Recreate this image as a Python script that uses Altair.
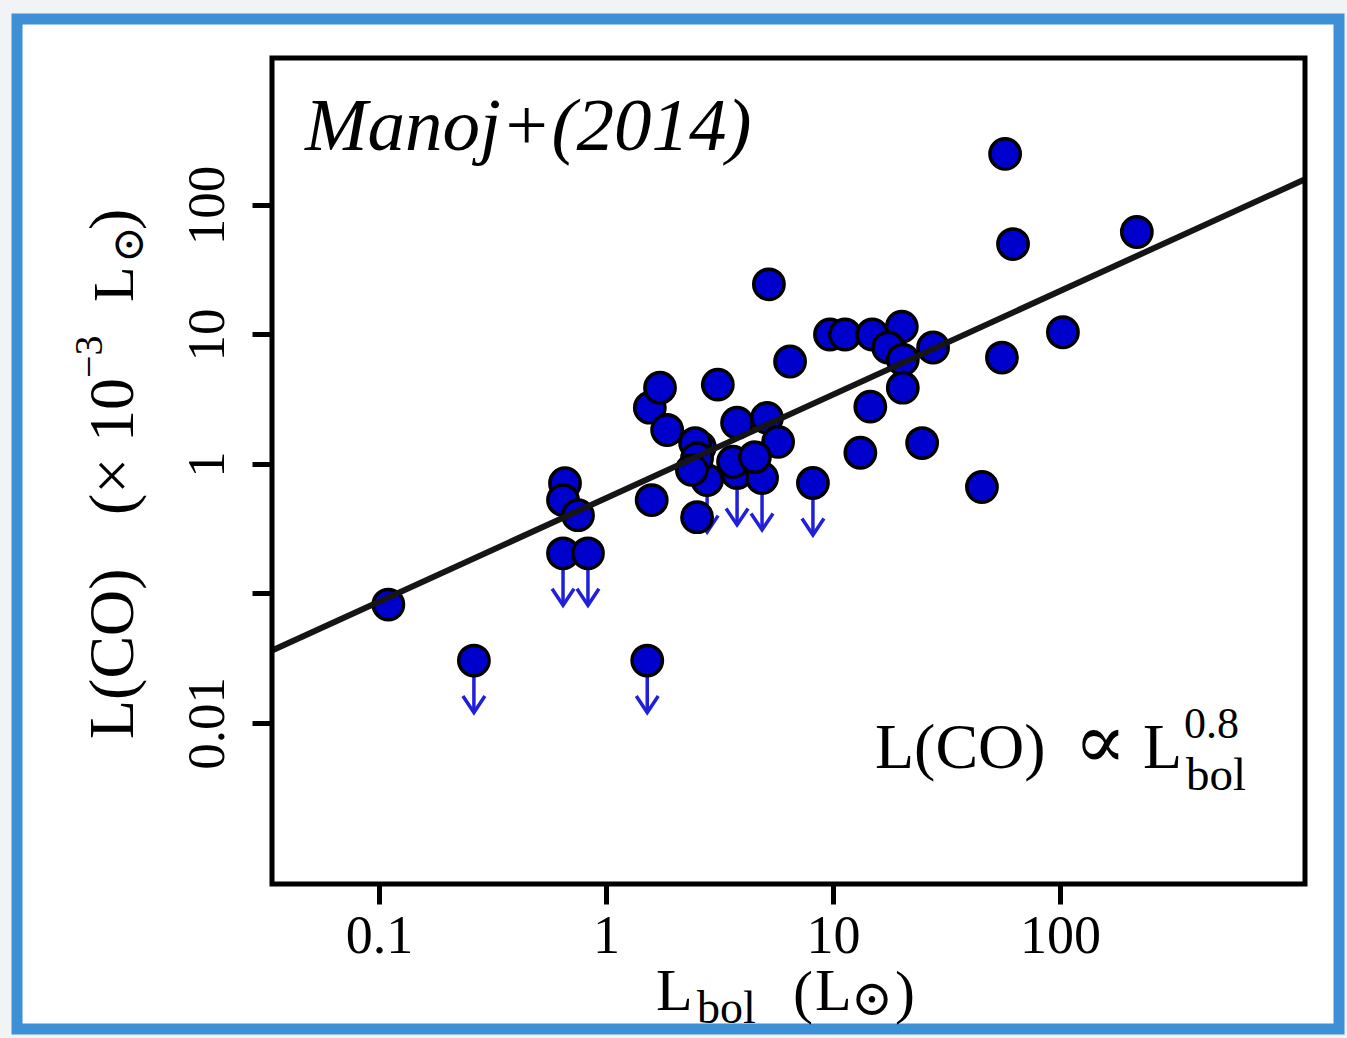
import altair as alt
import pandas as pd

# Protostars with CO detections: L_bol (L_sun) and L(CO) (1e-3 L_sun)
L_BOL = [0.110, 0.66, 0.647, 0.753, 1.59, 1.56, 1.73, 1.86, 3.11, 2.52,
         2.59, 2.47, 2.52, 2.39, 3.78, 5.12, 5.73, 3.63, 4.53, 6.47,
         5.22, 9.70, 11.3, 14.9, 20.1, 17.5, 27.6, 20.3, 20.3, 14.6,
         24.7, 13.2, 45.3, 55.5, 103, 57.3, 62.1, 218]
L_CO = [0.082, 0.71, 0.526, 0.402, 0.526, 2.72, 3.88, 1.83, 4.10, 0.388,
        1.35, 1.45, 1.11, 0.90, 2.08, 2.27, 1.48, 1.04, 1.13, 6.18,
        24.4, 10.0, 10.0, 10.0, 11.5, 7.93, 7.93, 6.40, 3.88, 2.77,
        1.45, 1.22, 0.664, 6.63, 10.4, 248, 49.9, 61.8]

# Sources with upper limits on L(CO)
L_BOL_UL = [0.262, 1.52, 0.647, 0.833, 2.79, 3.78, 4.87, 8.16]
L_CO_UL = [0.0303, 0.0303, 0.204, 0.204, 0.75, 0.852, 0.78, 0.712]

X_TICKS = [0.1, 1, 10, 100]
X_TICK_LABELS = ["0.1", "1", "10", "100"]
Y_TICKS = [0.01, 0.1, 1, 10, 100]
Y_TICK_LABELS = ["0.01", "", "1", "10", "100"]

X_DOMAIN = [0.0338, 1200]
Y_DOMAIN = [0.00057, 1365]

# Power-law fit L(CO) = A * L_bol^0.8
FIT_EXPONENT = 0.8
FIT_COEFF = 0.544

# ---- layout -------------------------------------------------------------
W, H = 1033, 826
PAD_L, PAD_T = 272, 58
PAD_R, PAD_B = 1347 - PAD_L - W, 1038 - PAD_T - H

SERIF = "Liberation Serif, DejaVu Serif, serif"
DOT_FILL = "#0000cc"
ARROW = "#2020d8"
FRAME_BLUE = "#3d8fd6"
DOT_SIZE = 920

det = pd.DataFrame({"L": L_BOL, "C": L_CO})
ul = pd.DataFrame({"L": L_BOL_UL, "C": L_CO_UL})
fit = pd.DataFrame({"L": X_DOMAIN,
                    "C": [FIT_COEFF * v ** FIT_EXPONENT for v in X_DOMAIN]})
one = pd.DataFrame({"k": [0]})


def label_expr(values, labels):
    vals = "[" + ",".join(repr(v) for v in values) + "]"
    labs = "[" + ",".join("'" + s + "'" for s in labels) + "]"
    return f"{labs}[indexof({vals}, datum.value)]"


x_scale = alt.Scale(type="log", domain=X_DOMAIN, nice=False)
y_scale = alt.Scale(type="log", domain=Y_DOMAIN, nice=False)

x_axis = alt.Axis(values=X_TICKS, labelExpr=label_expr(X_TICKS, X_TICK_LABELS),
                  domain=False, grid=False, tickSize=20, tickWidth=5,
                  tickColor="black", labelFont=SERIF, labelFontSize=54,
                  labelColor="black", labelPadding=48, labelBaseline="alphabetic",
                  labelAlign="center", labelFlush=False, labelOverlap=False,
                  title=None, zindex=1)
y_axis = alt.Axis(values=Y_TICKS, labelExpr=label_expr(Y_TICKS, Y_TICK_LABELS),
                  domain=False, grid=False, tickSize=20, tickWidth=5,
                  tickColor="black", labelFont=SERIF, labelFontSize=53,
                  labelColor="black", labelPadding=29, labelAngle=270,
                  labelBaseline="alphabetic", labelAlign="center",
                  labelFlush=False, labelOverlap=False, title=None, zindex=1)

X = alt.X("L:Q", scale=x_scale, axis=x_axis)
Y = alt.Y("C:Q", scale=y_scale, axis=y_axis)


def txt(text, x, y, size, angle=0, italic=False):
    """Text piece placed by its start point and baseline (page pixels)."""
    return alt.Chart(one).mark_text(
        text=text, font=SERIF, fontSize=size, angle=angle,
        fontStyle="italic" if italic else "normal",
        align="left", baseline="alphabetic", color="black",
    ).encode(x=alt.value(x - PAD_L), y=alt.value(y - PAD_T))


# hand-drawn style blue frame around the figure
paper = alt.Chart(one).mark_rect(
    fill="white", stroke=FRAME_BLUE, strokeWidth=11
).encode(x=alt.value(17 - PAD_L), x2=alt.value(1339 - PAD_L),
         y=alt.value(19 - PAD_T), y2=alt.value(1029 - PAD_T))

# upper-limit arrows
arrow_shaft = alt.Chart(ul).mark_rule(
    color=ARROW, strokeWidth=3.5, y2Offset=52
).encode(x=X, y=Y, y2="C:Q")
arrow_head = alt.Chart(ul).mark_point(
    shape="M-1,-1.5L0,0L1,-1.5", filled=False, size=484,
    stroke=ARROW, strokeWidth=3.5, opacity=1, yOffset=52
).encode(x=X, y=Y)

dots_ul = alt.Chart(ul).mark_circle(
    size=DOT_SIZE, color=DOT_FILL, opacity=1, stroke="black", strokeWidth=3.5
).encode(x=X, y=Y)
dots = alt.Chart(det).mark_circle(
    size=DOT_SIZE, color=DOT_FILL, opacity=1, stroke="black", strokeWidth=3.5
).encode(x=X, y=Y)

fit_line = alt.Chart(fit).mark_line(
    color="#151515", strokeWidth=6
).encode(x=X, y=Y)

plot_frame = alt.Chart(one).mark_rect(
    fillOpacity=0, stroke="black", strokeWidth=5
).encode(x=alt.value(0), x2=alt.value(W), y=alt.value(0), y2=alt.value(H))

texts = [
    txt("Manoj+(2014)", 305, 150, 75, italic=True),
    # L(CO) ∝ L_bol^0.8
    txt("L(CO)", 875, 768, 64),
    txt("\u221d", 1074, 768, 78),
    txt("L", 1143, 768, 64),
    txt("0.8", 1184, 738, 44),
    txt("bol", 1186, 790, 47),
    # x title: L_bol (L_sun)
    txt("L", 656, 1010, 60),
    txt("bol", 697, 1023, 46),
    txt("(", 793, 1012, 60),
    txt("L", 815, 1010, 60),
    txt("\u2299", 851, 1015, 50),
    txt(")", 895, 1012, 60),
    # y title: L(CO) (x 10^-3 L_sun)
    txt("L(CO)", 133, 739, 64, angle=270),
    txt("(\u00d7", 133, 515, 64, angle=270),
    txt("10", 133, 442, 64, angle=270),
    txt("\u22123", 102, 378, 40, angle=270),
    txt("L", 133, 302, 58, angle=270),
    txt("\u2299", 143, 263, 44, angle=270),
    txt(")", 133, 230, 64, angle=270),
]

chart = alt.layer(
    paper, arrow_shaft, arrow_head, dots_ul, dots, fit_line, plot_frame, *texts
).properties(
    width=W, height=H,
    autosize=alt.AutoSizeParams(type="none"),
    padding={"left": PAD_L, "top": PAD_T, "right": PAD_R, "bottom": PAD_B},
    background="#f1f3f5",
).configure_view(stroke="transparent")

chart.save("out.html", embed_options={"renderer": "svg", "actions": False})
